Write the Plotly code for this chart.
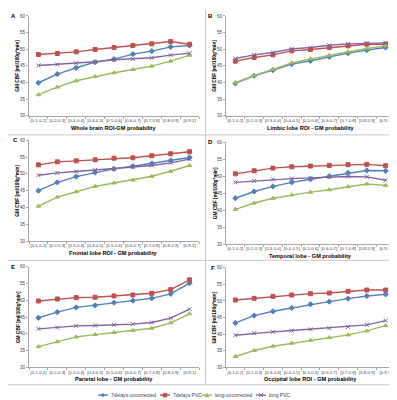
import plotly.graph_objects as go

W, H = 397, 400

categories = ["[0.1-0.2]", "[0.2-0.3]", "[0.3-0.4]", "[0.4-0.5]", "[0.5-0.6]",
              "[0.6-0.7]", "[0.7-0.8]", "[0.8-0.9]", "[0.9-1]"]

series_names = ["7delays uncorrected", "7delays PVC", "long uncorrected", "long PVC"]
series_colors = ["#4F81BD", "#C0504D", "#9BBB59", "#8064A2"]
series_symbols = ["diamond", "square", "triangle-up", "x-thin"]

panel_letters = ["A", "B", "C", "D", "E", "F"]
panel_xtitles = ["Whole brain ROI-GM probability", "Limbic lobe ROI - GM probability",
                 "Frontal lobe ROI - GM probability", "Temporal lobe - GM probability",
                 "Parietal lobe - GM probability", "Occipital lobe ROI - GM probability"]
ytitle = "GM CBF [ml/100g*min]"

# A: whole brain
wb_7d_unc = [39.9, 42.5, 44.4, 46.1, 47.0, 48.5, 49.4, 50.7, 51.1]
wb_7d_pvc = [48.4, 48.7, 49.2, 49.9, 50.5, 51.1, 51.6, 52.3, 51.5]
wb_long_unc = [36.3, 38.6, 40.5, 41.8, 42.9, 43.9, 44.9, 46.4, 48.2]
wb_long_pvc = [45.1, 45.4, 45.8, 46.2, 46.8, 47.0, 47.4, 48.2, 48.8]
# B: limbic
lim_7d_unc = [39.7, 42.0, 43.7, 45.5, 46.5, 47.7, 48.8, 49.7, 50.5]
lim_7d_pvc = [46.4, 47.5, 48.3, 49.5, 49.9, 50.5, 51.0, 51.5, 51.5]
lim_long_unc = [39.9, 42.1, 43.9, 45.9, 47.1, 48.2, 49.2, 50.2, 51.0]
lim_long_pvc = [47.2, 48.3, 49.0, 50.1, 50.5, 51.2, 51.6, 51.7, 51.9]
# C: frontal
fro_7d_unc = [45.0, 47.5, 49.2, 50.4, 51.5, 52.3, 53.1, 54.0, 54.9]
fro_7d_pvc = [52.7, 53.6, 53.9, 54.2, 54.7, 54.8, 55.4, 56.0, 56.6]
fro_long_unc = [40.4, 43.1, 44.7, 46.3, 47.3, 48.2, 49.3, 50.8, 52.5]
fro_long_pvc = [49.6, 50.3, 50.7, 51.2, 51.5, 52.1, 52.5, 53.3, 54.4]
# D: temporal
tem_7d_unc = [43.5, 45.5, 47.0, 48.2, 49.1, 50.0, 51.0, 51.7, 51.6]
tem_7d_pvc = [50.7, 51.6, 52.4, 52.8, 53.0, 53.2, 53.4, 53.5, 53.1]
tem_long_unc = [40.2, 42.1, 43.5, 44.5, 45.3, 46.0, 46.9, 47.7, 47.3]
tem_long_pvc = [48.2, 48.6, 49.1, 49.3, 49.5, 49.8, 49.9, 49.8, 48.8]
# E: parietal
par_7d_unc = [44.8, 46.5, 47.9, 48.5, 49.3, 49.9, 50.6, 51.9, 55.1]
par_7d_pvc = [49.8, 50.4, 50.8, 50.9, 51.3, 51.6, 52.1, 53.2, 56.1]
par_long_unc = [36.2, 37.7, 39.1, 39.8, 40.4, 41.0, 41.7, 43.3, 46.0]
par_long_pvc = [41.5, 41.9, 42.4, 42.5, 42.7, 42.9, 43.4, 44.7, 47.4]
# F: occipital
occ_7d_unc = [43.4, 45.6, 46.9, 47.9, 49.0, 49.8, 50.7, 51.5, 52.0]
occ_7d_pvc = [50.3, 50.8, 51.4, 51.8, 52.2, 52.4, 52.9, 53.3, 53.3]
occ_long_unc = [33.3, 35.1, 36.4, 37.3, 38.2, 39.0, 39.8, 41.0, 42.6]
occ_long_pvc = [39.7, 40.3, 40.7, 41.1, 41.5, 41.8, 42.2, 42.8, 44.1]

panel_data = [
    [wb_7d_unc, wb_7d_pvc, wb_long_unc, wb_long_pvc],
    [lim_7d_unc, lim_7d_pvc, lim_long_unc, lim_long_pvc],
    [fro_7d_unc, fro_7d_pvc, fro_long_unc, fro_long_pvc],
    [tem_7d_unc, tem_7d_pvc, tem_long_unc, tem_long_pvc],
    [par_7d_unc, par_7d_pvc, par_long_unc, par_long_pvc],
    [occ_7d_unc, occ_7d_pvc, occ_long_unc, occ_long_pvc],
]

y_ticks = [30, 35, 40, 45, 50, 55, 60]

# plot-area pixel boxes (x0, x1, ytop, ybottom)
boxes = [
    (21, 191, 6, 107),
    (218, 387, 6, 107),
    (21, 191, 132, 234),
    (218, 387, 134, 237),
    (21, 191, 260, 362),
    (218, 387, 261, 362),
]
letter_pos = [(5, 6), (202, 6), (7, 132), (202, 134), (5, 260), (205, 261)]

def fx(x):
    return x / W

def fy(y):
    return 1 - y / H

fig = go.Figure()
layout = {}
annotations = []
for i, (data, box) in enumerate(zip(panel_data, boxes)):
    n = "" if i == 0 else str(i + 1)
    x0, x1, yt, yb = box
    for s, vals in enumerate(data):
        fig.add_trace(go.Scatter(
            x=categories, y=vals, xaxis="x" + n, yaxis="y" + n,
            mode="lines+markers", name=series_names[s],
            line=dict(color=series_colors[s], width=1.4),
            marker=dict(symbol=series_symbols[s], size=4, color=series_colors[s],
                        line=dict(color=series_colors[s], width=1)),
            showlegend=False))
    layout["xaxis" + n] = dict(
        domain=[fx(x0), fx(x1)], anchor="y" + n, type="category",
        categoryorder="array", categoryarray=categories, range=[-0.5, 8.5],
        showline=True, linecolor="#a6a6a6", linewidth=1, ticks="outside",
        tickson="boundaries", ticklen=2, tickcolor="#a6a6a6", tickangle=0,
        tickfont=dict(size=4.3, color="#404040", family="Liberation Sans"),
        showgrid=False, zeroline=False, fixedrange=True)
    layout["yaxis" + n] = dict(
        domain=[fy(yb), fy(yt)], anchor="x" + n, range=[30, 60],
        tickvals=y_ticks, showline=True, linecolor="#a6a6a6", linewidth=1,
        ticks="outside", ticklen=2, tickcolor="#a6a6a6",
        tickfont=dict(size=4.5, color="#404040", family="Liberation Sans"),
        showgrid=False, zeroline=False, fixedrange=True)
    # x title
    annotations.append(dict(
        x=fx((x0 + x1) / 2), y=fy(yb + 12), xref="paper", yref="paper",
        text="<b>" + panel_xtitles[i] + "</b>", showarrow=False,
        xanchor="center", yanchor="middle",
        font=dict(size=5.6, color="#000000", family="Liberation Sans")))
    # y title
    annotations.append(dict(
        x=fx(x0 - 11), y=fy((yt + yb) / 2), xref="paper", yref="paper",
        text="<b>" + ytitle + "</b>", showarrow=False, textangle=-90,
        xanchor="center", yanchor="middle",
        font=dict(size=4.8, color="#000000", family="Liberation Sans")))
    # letter
    lx, ly = letter_pos[i]
    annotations.append(dict(
        x=fx(lx), y=fy(ly), xref="paper", yref="paper",
        text="<b>" + panel_letters[i] + "</b>", showarrow=False,
        xanchor="center", yanchor="middle",
        font=dict(size=6, color="#000000", family="Liberation Sans")))

shapes = []
line_col = "#c8c8c8"
# panel separators
shapes.append(dict(type="line", xref="paper", yref="paper",
                   x0=fx(197.5), x1=fx(197.5), y0=fy(0), y1=fy(379), line=dict(color=line_col, width=1)))
for yy in (126.5, 253.5, 379.5):
    shapes.append(dict(type="line", xref="paper", yref="paper",
                       x0=0, x1=1, y0=fy(yy), y1=fy(yy), line=dict(color=line_col, width=1)))

# compact legend (drawn as in the reference: short line + marker + label)
legend_y = 390
legend_starts = [90, 152, 194, 248]
for s in range(4):
    lx0 = legend_starts[s]
    col = series_colors[s]
    shapes.append(dict(type="line", xref="paper", yref="paper",
                       x0=fx(lx0), x1=fx(lx0 + 10), y0=fy(legend_y), y1=fy(legend_y),
                       line=dict(color=col, width=1.4)))
    cx, cy, r = lx0 + 5, legend_y, 2
    if s == 0:
        path = f"M{fx(cx)},{fy(cy - r)} L{fx(cx + r)},{fy(cy)} L{fx(cx)},{fy(cy + r)} L{fx(cx - r)},{fy(cy)} Z"
        shapes.append(dict(type="path", xref="paper", yref="paper", path=path,
                           fillcolor=col, line=dict(color=col, width=0.5)))
    elif s == 1:
        shapes.append(dict(type="rect", xref="paper", yref="paper",
                           x0=fx(cx - r), x1=fx(cx + r), y0=fy(cy + r), y1=fy(cy - r),
                           fillcolor=col, line=dict(color=col, width=0.5)))
    elif s == 2:
        path = f"M{fx(cx)},{fy(cy - r)} L{fx(cx + r)},{fy(cy + r)} L{fx(cx - r)},{fy(cy + r)} Z"
        shapes.append(dict(type="path", xref="paper", yref="paper", path=path,
                           fillcolor=col, line=dict(color=col, width=0.5)))
    else:
        path = (f"M{fx(cx - r)},{fy(cy - r)} L{fx(cx + r)},{fy(cy + r)} "
                f"M{fx(cx - r)},{fy(cy + r)} L{fx(cx + r)},{fy(cy - r)}")
        shapes.append(dict(type="path", xref="paper", yref="paper", path=path,
                           line=dict(color=col, width=1)))
    annotations.append(dict(
        x=fx(lx0 + 11), y=fy(legend_y), xref="paper", yref="paper",
        text=series_names[s], showarrow=False, xanchor="left", yanchor="middle",
        font=dict(size=5, color="#404040", family="Liberation Sans")))

fig.update_layout(
    width=W, height=H, margin=dict(l=0, r=0, t=0, b=0),
    paper_bgcolor="white", plot_bgcolor="white", showlegend=False,
    annotations=annotations, shapes=shapes,
    **layout)

fig.write_html("out.html")
